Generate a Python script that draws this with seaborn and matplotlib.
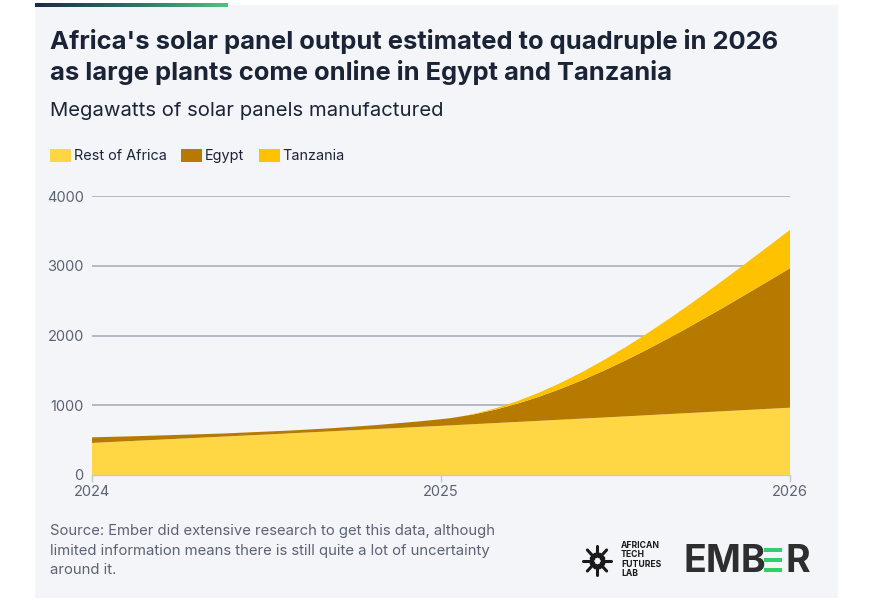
import numpy as np
import seaborn as sns
import matplotlib.pyplot as plt
from matplotlib.path import Path
from matplotlib.patches import PathPatch, Patch, Rectangle

years = [2024, 2025, 2026]
rest_of_africa = [460, 705, 965]
egypt = [80, 95, 2000]
tanzania = [0, 0, 550]
series_names = ['Rest of Africa', 'Egypt', 'Tanzania']
series_colors = ['#FFD745', '#B67A00', '#FFC200']
y_ticks = [0, 1000, 2000, 3000, 4000]
x_ticks = [2024, 2025, 2026]

title = ("Africa's solar panel output estimated to quadruple in 2026\n"
         "as large plants come online in Egypt and Tanzania")
subtitle = 'Megawatts of solar panels manufactured'
source = ('Source: Ember did extensive research to get this data, although\n'
          'limited information means there is still quite a lot of uncertainty\n'
          'around it.')

W, H = 875, 607
BG = '#f4f5f9'
NAVY = '#1b2437'
GREY = '#5b6275'

sns.set_theme(style='white')
plt.rcParams['font.family'] = ['Inter', 'DejaVu Sans']


def monotone_slopes(x, y):
    # same tangents as a monotone-x curve
    x = np.asarray(x, float)
    y = np.asarray(y, float)
    h = np.diff(x)
    s = np.diff(y) / h
    m = np.zeros_like(y)
    for i in range(1, len(y) - 1):
        p = (s[i - 1] * h[i] + s[i] * h[i - 1]) / (h[i - 1] + h[i])
        m[i] = (np.sign(s[i - 1]) + np.sign(s[i])) * min(abs(s[i - 1]), abs(s[i]), 0.5 * abs(p))
    m[0] = (3 * s[0] - m[1]) / 2
    m[-1] = (3 * s[-1] - m[-2]) / 2
    return m


def curve_segments(x, y):
    m = monotone_slopes(x, y)
    segs = []
    for i in range(len(x) - 1):
        d = (x[i + 1] - x[i]) / 3
        segs.append(((x[i] + d, y[i] + m[i] * d),
                     (x[i + 1] - d, y[i + 1] - m[i + 1] * d),
                     (x[i + 1], y[i + 1])))
    return segs


def band(ax, x, lower, upper, color):
    verts = [(x[0], upper[0])]
    codes = [Path.MOVETO]
    for c1, c2, p in curve_segments(x, upper):
        verts += [c1, c2, p]
        codes += [Path.CURVE4] * 3
    verts.append((x[-1], lower[-1]))
    codes.append(Path.LINETO)
    low = curve_segments(x, lower)
    for i in range(len(low) - 1, -1, -1):
        c1, c2, p = low[i]
        start = (x[i], lower[i])
        verts += [c2, c1, start]
        codes += [Path.CURVE4] * 3
    verts.append((x[0], upper[0]))
    codes.append(Path.CLOSEPOLY)
    ax.add_patch(PathPatch(Path(verts, codes), facecolor=color, edgecolor='none', zorder=2))


fig = plt.figure(figsize=(W / 100, H / 100), dpi=100, facecolor='white')

# card
fig.patches.append(Rectangle((35 / W, 1 - 598 / H), (838 - 35) / W, (598 - 5) / H,
                             transform=fig.transFigure, facecolor=BG, edgecolor='none', zorder=-5))
grad = fig.add_axes([35 / W, 1 - 7 / H, (228 - 35) / W, 4 / H])
grad.imshow(np.linspace(0, 1, 256)[None, :], aspect='auto',
            cmap=sns.blend_palette(['#1e2a48', '#2f6f66', '#4fc37d'], as_cmap=True))
grad.axis('off')

ax = fig.add_axes([92 / W, 1 - 475 / H, (790 - 92) / W, (475 - 196) / H])
ax.set_facecolor(BG)

levels = np.cumsum([np.zeros(3), rest_of_africa, egypt, tanzania], axis=0)
for i, color in enumerate(series_colors):
    band(ax, np.array(years, float), levels[i], levels[i + 1], color)

ax.set_xlim(2024, 2026)
ax.set_ylim(0, 4000)
ax.set_yticks(y_ticks)
ax.set_xticks(x_ticks)
ax.set_xticklabels([str(v) for v in x_ticks])
for v in y_ticks[1:]:
    ax.axhline(v, color='#b4b9c6', lw=1.4, zorder=1)
sns.despine(ax=ax, left=True, top=True, right=True)
ax.spines['bottom'].set_color('#c4c8d2')
ax.spines['bottom'].set_linewidth(1.0)
ax.spines['bottom'].set_zorder(3)
ax.tick_params(axis='x', length=5, width=1, color='#c4c8d2', pad=2, labelsize=10.5, labelcolor=GREY, bottom=True)
ax.tick_params(axis='y', length=0, pad=6, labelsize=10.5, labelcolor=GREY)

fig.text(50 / W, 1 - 29 / H, title, fontsize=18.4, fontweight='bold', color=NAVY,
         va='top', ha='left', linespacing=1.3)
fig.text(50 / W, 1 - 102 / H, subtitle, fontsize=14.6, color=NAVY, va='top', ha='left')

handles = [Patch(facecolor=c, edgecolor='none') for c in series_colors]
fig.legend(handles, series_names, loc='center left', bbox_to_anchor=(50 / W, 1 - 156 / H),
           ncol=3, frameon=False, fontsize=10.4, handlelength=1.45, handleheight=1.1,
           handletextpad=0.2, columnspacing=1.0, labelcolor=NAVY, borderaxespad=0, borderpad=0)

fig.text(50 / W, 1 - 524 / H, source, fontsize=10.7, color=GREY, va='top', ha='left', linespacing=1.5)

# logos
fig.text(621 / W, 1 - 541 / H, 'AFRICAN\nTECH\nFUTURES\nLAB', fontsize=6.2, fontweight='bold',
         color='#1a1a1a', va='top', ha='left', linespacing=1.05)
icon = fig.add_axes([581 / W, 1 - 578 / H, 32 / W, 35 / H])
icon.axis('off')
icon.set_xlim(-1, 1)
icon.set_ylim(-1, 1)
for ang in np.arange(0, 360, 45):
    r = np.deg2rad(ang)
    icon.plot([0.35 * np.cos(r), 0.85 * np.cos(r)], [0.35 * np.sin(r), 0.85 * np.sin(r)],
              color='#1a1a1a', lw=2.2, solid_capstyle='round')
    icon.plot(0.35 * np.cos(r + 0.4), 0.35 * np.sin(r + 0.4), 'o', color='#1a1a1a', ms=3)

fig.text(683 / W, 1 - 572 / H, 'EMB', fontsize=27, fontweight='bold', color='#2e2e2e',
         va='baseline', ha='left')
fig.text(810 / W, 1 - 572 / H, 'R', fontsize=27, fontweight='bold', color='#2e2e2e',
         va='baseline', ha='right')
for yb in (548, 558, 568):
    fig.patches.append(Rectangle((764 / W, 1 - (yb + 4) / H), 18 / W, 4 / H,
                                 transform=fig.transFigure, facecolor='#2fcf6b', edgecolor='none'))

fig.savefig('out.png', dpi=100, facecolor='white')
